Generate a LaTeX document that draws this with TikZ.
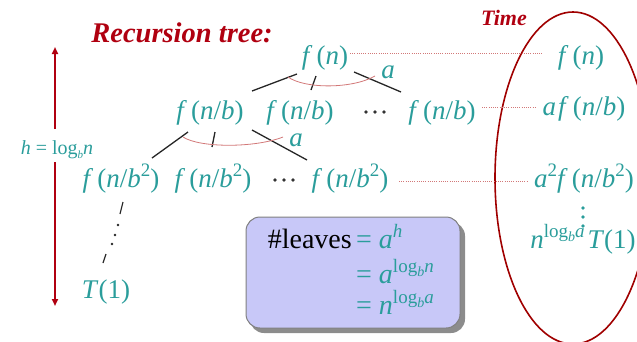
\documentclass[tikz,border=0pt]{standalone}
\usepackage{fontspec}
\setmainfont{Liberation Serif}
\usetikzlibrary{arrows.meta}
\definecolor{teal1}{HTML}{2A9D9B}
\definecolor{red1}{HTML}{B00010}
\definecolor{ellred}{HTML}{A00000}
\definecolor{arcred}{HTML}{D27878}
\definecolor{boxfill}{HTML}{C8C8F8}
\newcommand\I[1]{\textit{#1}}
\newcommand\ff{\textit{f}\kern4pt}
\newcommand\sps[1]{\raisebox{0.38em}{\fontsize{19}{20}\selectfont #1}}
\newcommand\lgb[1]{log\raisebox{-0.2em}{\fontsize{14}{14}\selectfont\I{b}}\I{#1}}
\begin{document}
\begin{tikzpicture}[x=1pt,y=-1pt,
  tx/.style={text=teal1,font=\fontsize{27}{30}\selectfont,inner sep=0pt,anchor=base},
  bx/.style={text=teal1,font=\fontsize{28}{30}\selectfont,inner sep=0pt,anchor=base west},
  edge/.style={draw=black!85,line width=1.3pt},
  arcl/.style={draw=arcred,line width=0.8pt},
  dotl/.style={draw=arcred,line width=0.8pt,dash pattern=on 1pt off 1.2pt},
  harrow/.style={draw=red1,line width=2pt,-{Triangle[length=7pt,width=6pt]}}]
\useasboundingbox (0,0) rectangle (637,341);
% title
\node[text=red1,font=\fontsize{28.5}{32}\selectfont\bfseries\itshape,anchor=base] (title) at (182,42) {Recursion tree:};
\node[text=red1,font=\fontsize{22}{26}\selectfont\bfseries\itshape,anchor=base] (time) at (504,25) {Time};
% ellipse
\draw[ellred,line width=1.6pt] (573,178) ellipse [x radius=78, y radius=166];
% tree nodes
\node[tx] (r) at (325,64) {\ff(\I{n})};
\node[tx] (c1) at (210,119) {\ff(\I{n}/\I{b})};
\node[tx] (c2) at (300,119) {\ff(\I{n}/\I{b})};
\node[inner sep=0pt] (c3) at (375,112) {};
\fill[black!80] (c3) ++(-9,0) circle (1.8) (c3) circle (1.8) (c3) ++(9,0) circle (1.8);
\node[tx] (c4) at (442,119) {\ff(\I{n}/\I{b})};
\node[tx] (g1) at (121,187) {\ff(\I{n}/\I{b}\sps{2})};
\node[tx] (g2) at (213,187) {\ff(\I{n}/\I{b}\sps{2})};
\node[inner sep=0pt] (g3) at (284,180) {};
\fill[black!80] (g3) ++(-9,0) circle (1.8) (g3) circle (1.8) (g3) ++(9,0) circle (1.8);
\node[tx] (g4) at (350,187) {\ff(\I{n}/\I{b}\sps{2})};
\node[tx] (leaf) at (106,298) {\I{T}(1)};
% right column
\node[tx] (t0) at (581,64) {\ff(\I{n})};
\node[tx] (t1) at (584,115) {\I{a}\kern2pt\ff(\I{n}/\I{b})};
\node[tx] (t2) at (584,187) {\I{a}\sps{2}\ff(\I{n}/\I{b}\sps{2})};
\node[inner sep=0pt] (t3) at (583,217) {};
\fill[teal1] (t3) ++(0,-9) circle (1.8) (t3) circle (1.8) (t3) ++(0,9) circle (1.8);
\node[tx] (t4) at (583,248) {\I{n}\sps{\lgb{a}}\kern3pt\I{T}(1)};
% dotted guides
\draw[dotl] (350,53) coordinate (d0a) -- (542,53) coordinate (d0b);
\draw[dotl] (482,107) coordinate (d1a) -- (537,107) coordinate (d1b);
\draw[dotl] (399,181) coordinate (d2a) -- (528,181) coordinate (d2b);
% edges level 0
\coordinate (e1a) at (297,74); \coordinate (e1b) at (252,91);
\coordinate (e2a) at (316,76); \coordinate (e2b) at (311,90);
\coordinate (e3a) at (354,72); \coordinate (e3b) at (401,92);
\draw[edge] (e1a) -- (e1b);
\draw[edge] (e2a) -- (e2b);
\draw[edge] (e3a) -- (e3b);
\draw[arcl] (288,77) .. controls (305,89) and (352,89) .. (375,76);
\node[tx] (a0) at (388,78) {\I{a}};
% edges level 1
\coordinate (f1a) at (188,132); \coordinate (f1b) at (152,158);
\coordinate (f2a) at (215,132); \coordinate (f2b) at (212,147);
\coordinate (f3a) at (252,130); \coordinate (f3b) at (307,160);
\draw[edge] (f1a) -- (f1b);
\draw[edge] (f2a) -- (f2b);
\draw[edge] (f3a) -- (f3b);
\draw[arcl] (183,137) .. controls (200,148) and (255,148) .. (283,137);
\node[tx] (a1) at (296,146) {\I{a}};
% leaf path
\draw[edge,line width=1.2pt] (123,202) coordinate (l1) -- (120,214) coordinate (l2);
\fill[black!85] (118,225) circle (1.4) (115,235) circle (1.4) (112,244) circle (1.4);
\draw[edge,line width=1.2pt] (106,254) coordinate (l3) -- (103,263) coordinate (l4);
% height arrow
\node[text=teal1,font=\fontsize{20}{22}\selectfont,inner sep=0pt,anchor=base] (h) at (57,154) {\I{h} = log\raisebox{-0.2em}{\fontsize{11}{12}\selectfont\I{b}}\I{n}};
\draw[harrow] (55,129) coordinate (ha) -- (55,47) coordinate (hb);
\draw[harrow] (55,162) coordinate (hc) -- (55,306) coordinate (hd);
% box
\fill[black!45,rounded corners=14pt] (250,222) rectangle (465,333);
\draw[fill=boxfill,draw=black!50,line width=1pt,rounded corners=14pt] (246,217) rectangle (460,328);
\node[font=\fontsize{28}{30}\selectfont,inner sep=0pt,anchor=base east] (lv) at (352,248) {\#leaves};
\node[bx] (q1) at (356,248) {= \I{a}\sps{\I{h}}};
\node[bx] (q2) at (356,283) {= \I{a}\sps{\lgb{n}}};
\node[bx] (q3) at (356,314) {= \I{n}\sps{\lgb{a}}};
\end{tikzpicture}
\end{document}
